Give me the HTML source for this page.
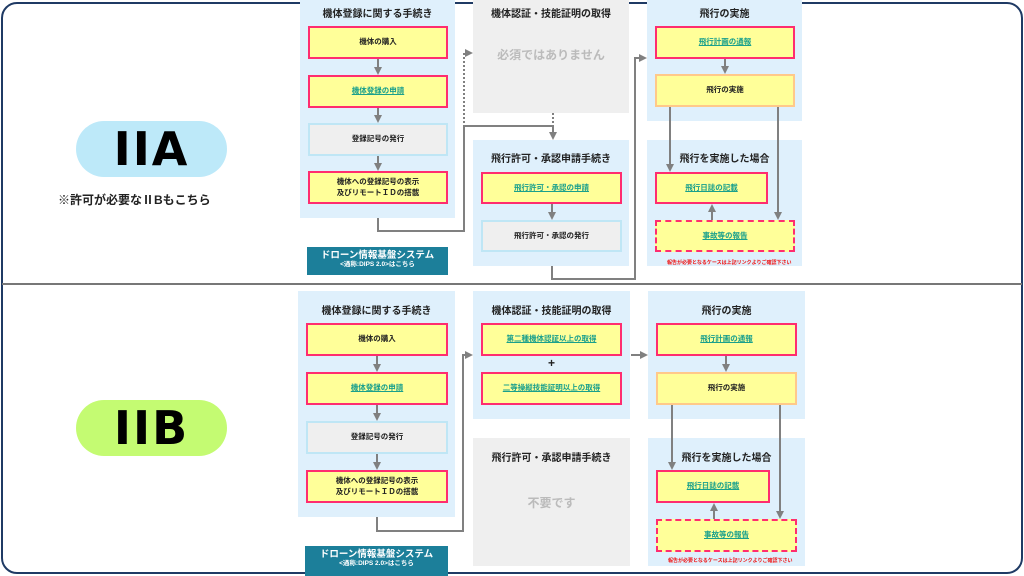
<!DOCTYPE html>
<html><head><meta charset="utf-8"><style>
*{margin:0;padding:0;box-sizing:border-box}
body{width:1024px;height:576px;position:relative;overflow:hidden;background:#fff;font-family:"Liberation Sans","Noto Sans CJK JP",sans-serif}
.a{position:absolute}
.frame{left:1px;top:2px;width:1022px;height:572px;border:2.5px solid #1f3a64;border-radius:16px}
.pan{position:absolute;background:#dff0fc}
.gp{position:absolute;background:#efefef}
.t{position:absolute;text-align:center;font-weight:bold;font-size:10px;color:#222;white-space:nowrap}
.b{position:absolute;background:#ffff99;border:2px solid #ff2d6f;display:flex;align-items:center;justify-content:center;text-align:center;font-weight:bold;font-size:7.5px;color:#222;line-height:1.35}
.g{background:#efefef;border:2px solid #bfe6f5}
.o{border-color:#ffc98a}
.d{border:2px dashed #ff2d6f}
.l{color:#1aa08c;text-decoration:underline}
.dips{position:absolute;background:#1c7f9a;color:#fff;text-align:center;font-weight:bold;font-size:9.5px;line-height:1.2;padding-top:3px}
.dips small{font-size:6.5px;display:block}
.note{position:absolute;color:#f01010;font-size:5px;font-weight:bold;white-space:nowrap}
.badge{position:absolute;left:76px;width:151px;height:56px;border-radius:28px;font-weight:bold;font-size:46px;line-height:56px;text-align:center;color:#000;letter-spacing:2px;font-family:"DejaVu Sans","Liberation Sans",sans-serif}
</style></head><body>
<div class="a frame"></div>
<div class="a" style="left:2px;top:283px;width:1020px;height:2px;background:#777"></div>

<div class="badge" style="top:121px;background:#bde9f9">IIA</div>
<div class="a" style="left:58px;top:191px;font-size:12px;font-weight:bold;color:#222">※許可が必要なⅡBもこちら</div>
<div class="badge" style="top:400px;background:#c4fb72">IIB</div>

<!-- TOP -->
<div class="pan" style="left:300px;top:0;width:155px;height:218px"></div>
<div class="t" style="left:300px;width:155px;top:5px">機体登録に関する手続き</div>
<div class="b" style="left:308px;top:26px;width:140px;height:33px">機体の購入</div>
<div class="b" style="left:308px;top:75px;width:140px;height:33px"><span class="l">機体登録の申請</span></div>
<div class="b g" style="left:308px;top:123px;width:140px;height:33px">登録記号の発行</div>
<div class="b" style="left:308px;top:171px;width:140px;height:33px">機体への登録記号の表示<br>及びリモートＩＤの搭載</div>
<div class="dips" style="left:307px;top:247px;width:141px;height:28px">ドローン情報基盤システム<small>&lt;通称:DIPS 2.0&gt;はこちら</small></div>

<div class="gp" style="left:473px;top:0;width:156px;height:113px"></div>
<div class="t" style="left:473px;width:156px;top:5px">機体認証・技能証明の取得</div>
<div class="t" style="left:473px;width:156px;top:46px;color:#bbb;font-size:12px">必須ではありません</div>

<div class="pan" style="left:473px;top:140px;width:156px;height:126px"></div>
<div class="t" style="left:473px;width:156px;top:150px">飛行許可・承認申請手続き</div>
<div class="b" style="left:481px;top:172px;width:141px;height:32px"><span class="l">飛行許可・承認の申請</span></div>
<div class="b g" style="left:481px;top:220px;width:141px;height:32px">飛行許可・承認の発行</div>

<div class="pan" style="left:647px;top:0;width:155px;height:121px"></div>
<div class="t" style="left:647px;width:155px;top:5px">飛行の実施</div>
<div class="b" style="left:655px;top:26px;width:140px;height:33px"><span class="l">飛行計画の通報</span></div>
<div class="b o" style="left:655px;top:74px;width:140px;height:33px">飛行の実施</div>

<div class="pan" style="left:647px;top:140px;width:155px;height:126px"></div>
<div class="t" style="left:647px;width:155px;top:150px">飛行を実施した場合</div>
<div class="b" style="left:655px;top:172px;width:113px;height:32px"><span class="l">飛行日誌の記載</span></div>
<div class="b d" style="left:655px;top:220px;width:140px;height:32px"><span class="l">事故等の報告</span></div>
<div class="note" style="left:667px;top:259px">報告が必要となるケースは上記リンクよりご確認下さい</div>

<!-- BOTTOM -->
<div class="pan" style="left:298px;top:291px;width:157px;height:226px"></div>
<div class="t" style="left:298px;width:157px;top:302px">機体登録に関する手続き</div>
<div class="b" style="left:306px;top:323px;width:142px;height:33px">機体の購入</div>
<div class="b" style="left:306px;top:372px;width:142px;height:33px"><span class="l">機体登録の申請</span></div>
<div class="b g" style="left:306px;top:421px;width:142px;height:33px">登録記号の発行</div>
<div class="b" style="left:306px;top:470px;width:142px;height:33px">機体への登録記号の表示<br>及びリモートＩＤの搭載</div>
<div class="dips" style="left:305px;top:546px;width:143px;height:30px">ドローン情報基盤システム<small>&lt;通称:DIPS 2.0&gt;はこちら</small></div>

<div class="pan" style="left:473px;top:291px;width:157px;height:128px"></div>
<div class="t" style="left:473px;width:157px;top:302px">機体認証・技能証明の取得</div>
<div class="b" style="left:481px;top:323px;width:141px;height:33px"><span class="l">第二種機体認証以上の取得</span></div>
<div class="t" style="left:473px;width:157px;top:356px;font-size:12px">+</div>
<div class="b" style="left:481px;top:372px;width:141px;height:33px"><span class="l">二等操縦技能証明以上の取得</span></div>

<div class="gp" style="left:473px;top:438px;width:157px;height:128px"></div>
<div class="t" style="left:473px;width:157px;top:449px">飛行許可・承認申請手続き</div>
<div class="t" style="left:473px;width:157px;top:494px;color:#bbb;font-size:12px">不要です</div>

<div class="pan" style="left:648px;top:291px;width:157px;height:128px"></div>
<div class="t" style="left:648px;width:157px;top:302px">飛行の実施</div>
<div class="b" style="left:656px;top:323px;width:141px;height:33px"><span class="l">飛行計画の通報</span></div>
<div class="b o" style="left:656px;top:372px;width:141px;height:33px">飛行の実施</div>

<div class="pan" style="left:648px;top:438px;width:157px;height:128px"></div>
<div class="t" style="left:648px;width:157px;top:449px">飛行を実施した場合</div>
<div class="b" style="left:656px;top:470px;width:114px;height:33px"><span class="l">飛行日誌の記載</span></div>
<div class="b d" style="left:656px;top:519px;width:141px;height:33px"><span class="l">事故等の報告</span></div>
<div class="note" style="left:668px;top:557px">報告が必要となるケースは上記リンクよりご確認下さい</div>

<svg class="a" style="left:0;top:0" width="1024" height="576">
<defs><marker id="ar" markerWidth="4" markerHeight="4" refX="3" refY="2" orient="auto" markerUnits="strokeWidth"><path d="M0,0L4,2L0,4z" fill="#808080"/></marker></defs>
<g stroke="#808080" stroke-width="2" fill="none" marker-end="url(#ar)">
<path d="M378 59V73"/><path d="M378 108V121"/><path d="M378 156V169"/>
<path d="M378 218V231H464V126H553V138"/>
<path d="M464 123V53H471" stroke-dasharray="2 2"/>
<path d="M553 113V124" stroke-dasharray="2 2" marker-end="none"/>
<path d="M552 204V218"/>
<path d="M552 266V279H635V58H645"/>
<path d="M725 59V72"/>
<path d="M670 107V170"/><path d="M778 107V218"/>
<path d="M712 220V206"/>
<path d="M377 356V370"/><path d="M377 405V419"/><path d="M377 454V468"/>
<path d="M377 517V531H463V355H471"/>
<path d="M631 355H646"/>
<path d="M726 356V370"/>
<path d="M672 405V468"/><path d="M780 405V517"/>
<path d="M714 519V505"/>
</g></svg>
</body></html>
